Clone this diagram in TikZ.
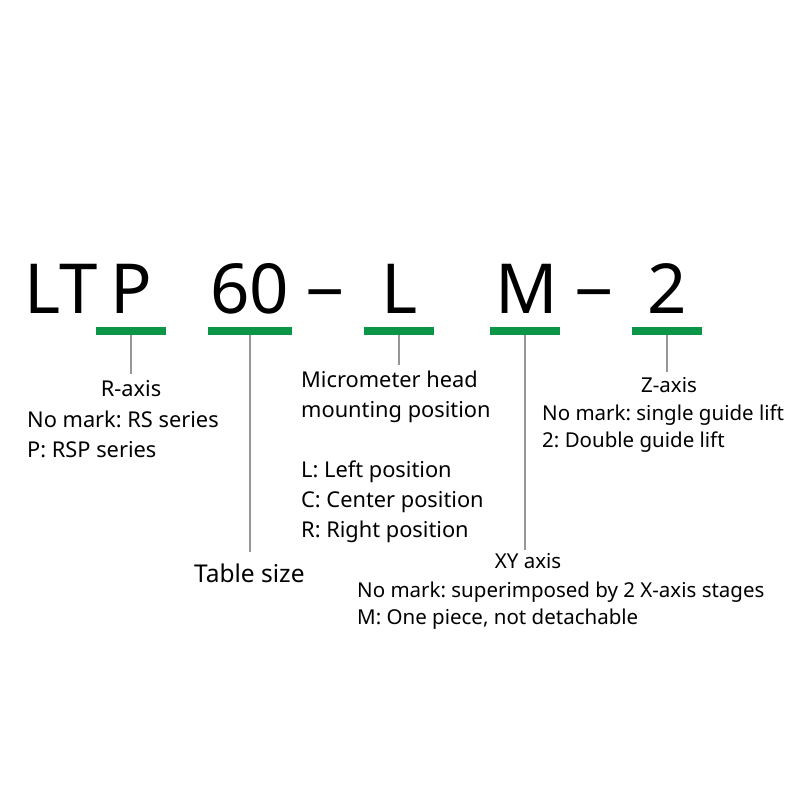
\documentclass[tikz,border=0pt]{standalone}
\usepackage{fontspec}
\setmainfont{Noto Sans}
\usetikzlibrary{positioning}
\definecolor{mgreen}{RGB}{10,150,70}
\definecolor{mgray}{RGB}{150,150,150}

\begin{document}
\frenchspacing
\begin{tikzpicture}[x=1pt,y=-1pt,
    code/.style={anchor=base west, inner sep=0pt, font=\fontsize{69}{69}\selectfont},
    sepchar/.style={code, font=\fontsize{69}{69}\selectfont\bfseries, yshift=-3pt},
    bar/.style={fill=mgreen, inner sep=0pt, minimum height=8.5pt},
    lead/.style={draw=mgray, line width=1.6pt},
    note/.style={anchor=base west, inner sep=0pt, font=\fontsize{20.5}{20.5}\selectfont},
    big/.style={font=\fontsize{21.8}{21.8}\selectfont},
    title/.style={anchor=base, inner sep=0pt, font=\fontsize{20.5}{20.5}\selectfont}]
  \useasboundingbox[fill=white] (0,0) rectangle (800,800);
  % model code
  \node[code] (lt) at (24,313) {LT};
  \node[code] (p) at (110,313) {P};
  \node[code] (size) at (210,313) {60};
  \node[sepchar] (d1) at (305,313) {−};
  \node[code] (l) at (381,313) {L};
  \node[code] (m) at (495,313) {M};
  \node[sepchar] (d2) at (574,313) {−};
  \node[code] (two) at (647,313) {2};

  % green marks
  \node[bar, minimum width=70pt] (bp) at (131,331) {};
  \node[bar, minimum width=84pt] (bs) at (250,331) {};
  \node[bar, minimum width=70pt] (bl) at (399,331) {};
  \node[bar, minimum width=70pt] (bm) at (525,331) {};
  \node[bar, minimum width=70pt] (bz) at (667,331) {};
  \coordinate (ep) at (131,374);
  \coordinate (es) at (250,552);
  \coordinate (el) at (399,365);
  \coordinate (em) at (525,550);
  \coordinate (ez) at (667,372);
  \draw[lead] (bp.south) -- (ep);
  \draw[lead] (bs.south) -- (es);
  \draw[lead] (bl.south) -- (el);
  \draw[lead] (bm.south) -- (em);
  \draw[lead] (bz.south) -- (ez);

  % R-axis
  \node[title, big] (rt) at (131,396) {R-axis};
  \node[note, big] (r1) at (27,427) {No mark: RS series};
  \node[note, big] (r2) at (27,457) {P: RSP series};

  % table size
  \node[note, font=\fontsize{24.5}{24.5}\selectfont] (ts) at (194,582) {Table size};

  % micrometer head
  \node[note, big] (h1) at (301,387) {Micrometer head};
  \node[note, big] (h2) at (301,417) {mounting position};
  \node[note, big] (h3) at (301,477) {L: Left position};
  \node[note, big] (h4) at (301,507) {C: Center position};
  \node[note, big] (h5) at (301,537) {R: Right position};

  % Z-axis
  \node[title] (zt) at (669,392) {Z-axis};
  \node[note] (z1) at (542,420) {No mark: single guide lift};
  \node[note] (z2) at (542,447) {2: Double guide lift};

  % XY axis
  \node[title] (xt) at (528,568) {XY axis};
  \node[note] (x1) at (357,597) {No mark: superimposed by 2 X-axis stages};
  \node[note] (x2) at (357,624) {M: One piece, not detachable};
\end{tikzpicture}
\end{document}
